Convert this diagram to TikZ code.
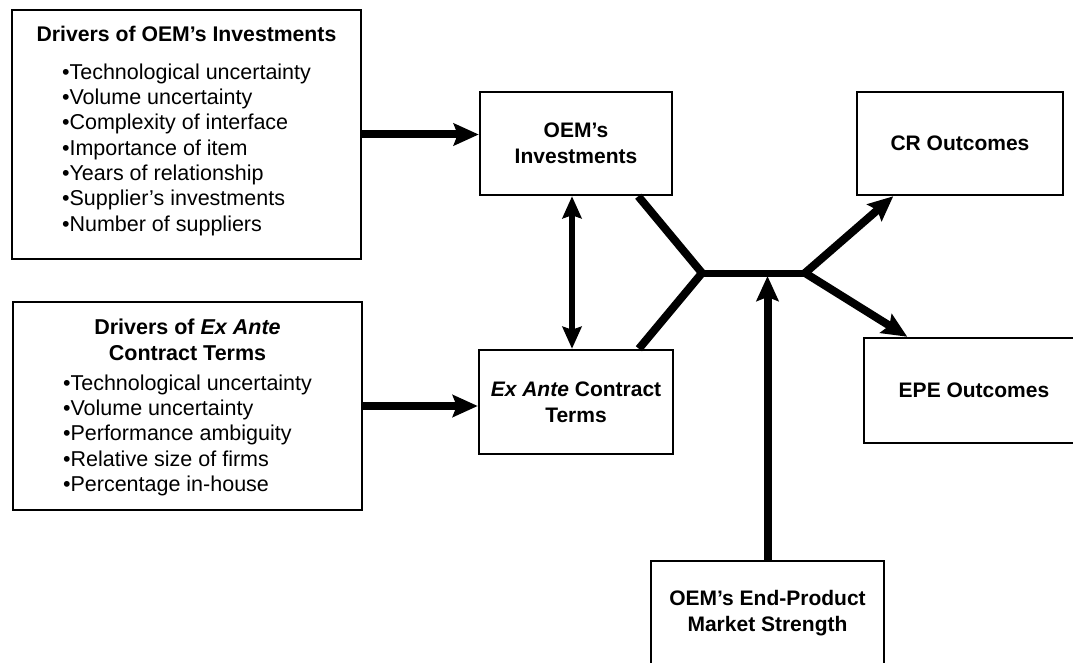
\documentclass[tikz,border=0pt]{standalone}
\usepackage{fontspec}
\setmainfont{Liberation Sans}
\usetikzlibrary{arrows.meta,calc}
\tikzset{
  box/.style={draw, line width=2.5pt, align=center, inner sep=0pt, font=\fontsize{21.5}{25.3}\selectfont},
  bbox/.style={box, font=\fontsize{21}{25.8}\selectfont\bfseries},
  thickarr/.style={line width=8pt, -{Stealth[length=25pt,width=22pt,inset=4pt]}},
}
\begin{document}
\begin{tikzpicture}[x=1pt,y=-1pt]
\clip (0,0) rectangle (1073,663);
\node[box, minimum width=349pt, minimum height=249pt] (drvInv) at (186.5,134.5) {\textbf{\fontsize{21.2}{25.3}\selectfont Drivers of OEM’s Investments}\\[12.7pt]
  \begin{tabular}[t]{@{}l@{}}
  •Technological uncertainty\\
  •Volume uncertainty\\
  •Complexity of interface\\
  •Importance of item\\
  •Years of relationship\\
  •Supplier’s investments\\
  •Number of suppliers\rule[-12pt]{0pt}{0pt}
  \end{tabular}};
\node[box, minimum width=349pt, minimum height=208pt] (drvCon) at (187.5,406) {\rule{0pt}{22pt}\textbf{Drivers of \textit{Ex Ante}}\\\textbf{Contract Terms}\\[4.7pt]
  \begin{tabular}[t]{@{}l@{}}
  •Technological uncertainty\\
  •Volume uncertainty\\
  •Performance ambiguity\\
  •Relative size of firms\\
  •Percentage in-house
  \end{tabular}};
\node[bbox, minimum width=192pt, minimum height=103pt] (oemInv) at (576,143.5) {OEM’s\\Investments};
\node[bbox, minimum width=194pt, minimum height=104pt] (exAnte) at (576,402) {\textit{Ex Ante} Contract\\Terms};
\node[bbox, minimum width=206pt, minimum height=103pt] (crOut) at (960,143.5) {CR Outcomes};
\node[bbox, minimum width=220pt, minimum height=105pt] (epeOut) at (974,390.5) {EPE Outcomes};
\node[bbox, minimum width=233pt, minimum height=105pt] (mktStr) at (767.5,613.5) {OEM’s End-Product\\Market Strength};
\coordinate (jl) at (702,273);
\coordinate (jr) at (805,273);
\draw[thickarr] (drvInv.east) -- (drvInv.east -| oemInv.west);
\draw[thickarr] (drvCon.east) -- (drvCon.east -| exAnte.west);
\draw[line width=6pt, {Stealth[length=22pt,width=19pt,inset=3pt]}-{Stealth[length=22pt,width=19pt,inset=3pt]}] ([xshift=-4pt]oemInv.south) -- ([xshift=-4pt]exAnte.north);
\draw[line width=8pt] ($(oemInv.south east)!0.18!(oemInv.south west)$) -- (jl) -- ($(exAnte.north east)!0.18!(exAnte.north west)$);
\draw[line width=7pt] (jl) -- (jr);
\draw[thickarr] (jr) -- ($(crOut.south west)!0.18!(crOut.south east)$);
\draw[thickarr] (jr) -- ($(epeOut.north west)!0.2!(epeOut.north east)$);
\draw[thickarr] (mktStr.north) -- ([yshift=-3pt]mktStr.north |- jr);
\end{tikzpicture}
\end{document}
